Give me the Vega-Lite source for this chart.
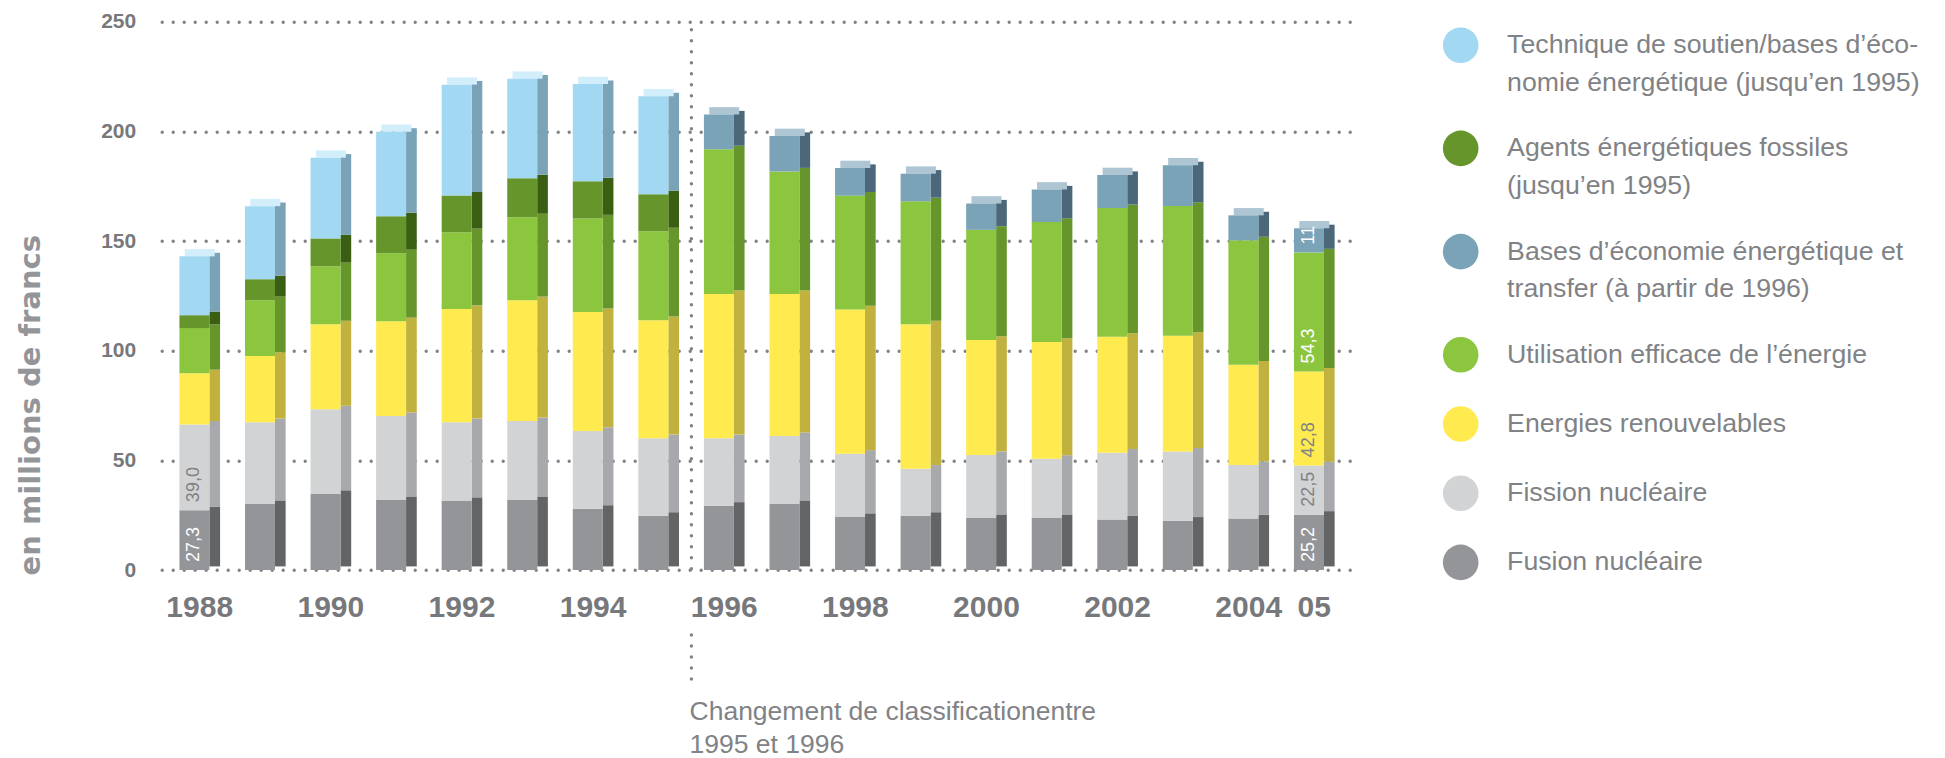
{
  "$schema": "https://vega.github.io/schema/vega-lite/v6.json",
  "width": 1190.6,
  "height": 548.3,
  "autosize": {"type": "none"},
  "padding": {"left": 161.7, "top": 21.7, "right": 592.7, "bottom": 188},
  "background": "white",
  "layer": [
    {
      "data": {
        "name": "budget",
        "values": [
          {"year": "1988", "fusion": 27.3, "fission": 39.0, "renew": 23.4, "eff": 20.6, "fossil": 5.9, "tech": 26.8},
          {"year": "1989", "fusion": 30.1, "fission": 37.3, "renew": 30.2, "eff": 25.4, "fossil": 9.6, "tech": 33.3},
          {"year": "1990", "fusion": 34.7, "fission": 38.6, "renew": 38.7, "eff": 26.5, "fossil": 12.7, "tech": 36.8},
          {"year": "1991", "fusion": 31.9, "fission": 38.3, "renew": 43.2, "eff": 31.0, "fossil": 16.9, "tech": 38.5},
          {"year": "1992", "fusion": 31.5, "fission": 35.9, "renew": 51.6, "eff": 35.0, "fossil": 16.7, "tech": 50.6},
          {"year": "1993", "fusion": 31.9, "fission": 36.0, "renew": 55.1, "eff": 37.8, "fossil": 17.8, "tech": 45.4},
          {"year": "1994", "fusion": 27.9, "fission": 35.5, "renew": 54.2, "eff": 42.7, "fossil": 16.9, "tech": 44.4},
          {"year": "1995", "fusion": 24.7, "fission": 35.4, "renew": 53.8, "eff": 40.5, "fossil": 16.9, "tech": 44.7},
          {"year": "1996", "fusion": 29.3, "fission": 30.8, "renew": 65.7, "eff": 66.0, "bases": 15.9},
          {"year": "1997", "fusion": 30.1, "fission": 31.0, "renew": 64.7, "eff": 55.9, "bases": 16.2},
          {"year": "1998", "fusion": 24.2, "fission": 28.8, "renew": 65.8, "eff": 51.9, "bases": 12.6},
          {"year": "1999", "fusion": 24.7, "fission": 21.5, "renew": 65.8, "eff": 56.1, "bases": 12.6},
          {"year": "2000", "fusion": 23.7, "fission": 28.7, "renew": 52.5, "eff": 50.2, "bases": 12.0},
          {"year": "2001", "fusion": 23.7, "fission": 27.0, "renew": 53.3, "eff": 54.7, "bases": 14.8},
          {"year": "2002", "fusion": 23.0, "fission": 30.5, "renew": 52.8, "eff": 58.7, "bases": 15.1},
          {"year": "2003", "fusion": 22.5, "fission": 31.5, "renew": 52.8, "eff": 59.2, "bases": 18.5},
          {"year": "2004", "fusion": 23.5, "fission": 24.4, "renew": 45.7, "eff": 56.7, "bases": 11.4},
          {"year": "2005", "fusion": 25.2, "fission": 22.5, "renew": 42.8, "eff": 54.3, "bases": 11}
        ]
      },
      "transform": [
        {"fold": ["fusion", "fission", "renew", "eff", "fossil", "bases", "tech"], "as": ["k", "v"]},
        {"filter": "isValid(datum.v)"},
        {"calculate": "indexof(['fusion','fission','renew','eff','fossil','bases','tech'], datum.k)", "as": "o"},
        {"stack": "v", "groupby": ["year"], "sort": [{"field": "o", "order": "ascending"}], "as": ["y0", "y1"]},
        {"joinaggregate": [{"op": "max", "field": "y1", "as": "tot"}], "groupby": ["year"]}
      ],
      "layer": [
        {
          "mark": {"type": "bar", "width": 10.7, "xOffset": 15, "yOffset": -3.6, "y2Offset": -3.6},
          "encoding": {
            "x": {
              "field": "year", "type": "ordinal",
              "scale": {"type": "band", "paddingInner": 0.5, "paddingOuter": 0.33},
              "axis": {
                "title": null, "domain": false, "ticks": false, "labelAngle": 0,
                "labelFont": "Liberation Sans", "labelFontWeight": "bold", "labelFontSize": 30,
                "labelColor": "#77787b", "labelPadding": 22, "labelOverlap": false, "labelFlush": false,
                "labelExpr": "datum.value == '2005' ? '05' : (toNumber(datum.value) % 2 == 0 ? datum.value : '')"
              }
            },
            "y": {
              "field": "y0", "type": "quantitative",
              "scale": {"domain": [0, 250], "nice": false, "zero": true},
              "axis": {
                "title": "en millions de francs", "values": [0, 50, 100, 150, 200, 250],
                "domain": false, "ticks": false, "grid": true,
                "gridDash": [0, 11], "gridCap": "round", "gridWidth": 3.4, "gridColor": "#808285",
                "labelFont": "Liberation Sans", "labelFontWeight": "bold", "labelFontSize": 21,
                "labelColor": "#77787b", "labelPadding": 26,
                "titleFont": "DejaVu Sans", "titleFontWeight": "bold", "titleFontSize": 29,
                "titleColor": "#939598", "titleX": -131, "titleY": 383, "titleAngle": 270,
                "titleAlign": "center", "titleBaseline": "middle"
              }
            },
            "y2": {"field": "y1"},
            "color": {
              "field": "k", "type": "nominal", "legend": null,
              "scale": {
                "domain": ["tech", "fossil", "bases", "eff", "renew", "fission", "fusion"],
                "range": ["#7aa3b7", "#3a5f13", "#4b6779", "#66952b", "#c1b13e", "#a7a9ac", "#636466"]
              }
            }
          }
        },
        {
          "transform": [{"filter": "datum.y1 == datum.tot"}],
          "mark": {"type": "bar", "width": 30, "xOffset": 0, "yOffset": -7.3, "y2Offset": 0},
          "encoding": {
            "x": {"field": "year", "type": "ordinal"},
            "y": {"field": "tot", "type": "quantitative"},
            "y2": {"field": "tot"},
            "color": {
              "field": "k", "type": "nominal", "legend": null,
              "scale": {
                "domain": ["tech", "fossil", "bases", "eff", "renew", "fission", "fusion"],
                "range": ["#d3eefb", "#8fb860", "#aec6d4", "#b6dc82", "#fff39a", "#e6e7e8", "#bcbec0"]
              }
            }
          }
        },
        {
          "mark": {"type": "bar", "width": 30, "xOffset": -5.3},
          "encoding": {
            "x": {"field": "year", "type": "ordinal"},
            "y": {"field": "y0", "type": "quantitative"},
            "y2": {"field": "y1"},
            "color": {
              "field": "k", "type": "nominal",
              "scale": {
                "domain": ["tech", "fossil", "bases", "eff", "renew", "fission", "fusion"],
                "range": ["#a3d8f2", "#66952b", "#7aa3b7", "#8cc63f", "#ffeb50", "#d1d3d4", "#939598"]
              },
              "legend": {
                "orient": "none", "legendX": 1281, "legendY": 5.5, "title": null, "padding": 0,
                "direction": "vertical", "symbolType": "circle", "symbolSize": 1267,
                "symbolStrokeWidth": 0, "symbolOpacity": 1,
                "labelFont": "Liberation Sans", "labelFontSize": 26.7, "labelColor": "#808285",
                "labelOffset": 28.4, "labelLimit": 700, "labelBaseline": "middle", "rowPadding": 33.2,
                "labelExpr": "datum.value == 'tech' ? ['Technique de soutien/bases d’éco-', 'nomie énergétique (jusqu’en 1995)'] : datum.value == 'fossil' ? ['Agents énergétiques fossiles', '(jusqu’en 1995)'] : datum.value == 'bases' ? ['Bases d’économie énergétique et', 'transfer (à partir de 1996)'] : datum.value == 'eff' ? 'Utilisation efficace de l’énergie' : datum.value == 'renew' ? 'Energies renouvelables' : datum.value == 'fission' ? 'Fission nucléaire' : 'Fusion nucléaire'"
              }
            }
          }
        },
        {
          "transform": [
            {"filter": "datum.year == '2005' || (datum.year == '1988' && (datum.k == 'fusion' || datum.k == 'fission'))"},
            {"calculate": "datum.k == 'bases' ? format(datum.v, 'd') : replace(format(datum.v, '.1f'), '.', ',')", "as": "lab"}
          ],
          "mark": {"type": "text", "angle": 270, "align": "left", "baseline": "middle", "font": "Liberation Sans", "fontWeight": "normal", "fontSize": 18, "xOffset": -5.3, "yOffset": -8},
          "encoding": {
            "x": {"field": "year", "type": "ordinal"},
            "y": {"field": "y0", "type": "quantitative"},
            "text": {"field": "lab"},
            "color": {"condition": {"test": "datum.k == 'fission' || datum.k == 'renew'", "value": "#808285"}, "value": "#ffffff"}
          }
        }
      ],
      "resolve": {"scale": {"color": "independent"}}
    },
    {
      "data": {"values": [{"note": "Changement de classification"}]},
      "layer": [
        {
          "mark": {"type": "rule", "strokeDash": [0, 11], "strokeCap": "round", "strokeWidth": 3.4, "color": "#808285", "xOffset": -32.8, "yOffset": 8},
          "encoding": {
            "x": {"datum": "1996", "type": "ordinal", "bandPosition": 0.5},
            "y": {"datum": 250, "type": "quantitative"},
            "y2": {"datum": 0}
          }
        },
        {
          "mark": {"type": "rule", "strokeDash": [0, 11], "strokeCap": "round", "strokeWidth": 3.4, "color": "#808285", "xOffset": -32.8, "yOffset": 65, "y2Offset": 110},
          "encoding": {
            "x": {"datum": "1996", "type": "ordinal", "bandPosition": 0.5},
            "y": {"datum": 0, "type": "quantitative"},
            "y2": {"datum": 0}
          }
        },
        {
          "mark": {"type": "text", "align": "left", "baseline": "alphabetic", "font": "Liberation Sans", "fontWeight": "normal", "fontSize": 26.5, "color": "#808285", "lineHeight": 33.3, "xOffset": -34.7, "yOffset": 150},
          "encoding": {
            "x": {"datum": "1996", "type": "ordinal", "bandPosition": 0.5},
            "y": {"datum": 0, "type": "quantitative"},
            "text": {"value": ["Changement de classificationentre", "1995 et 1996"]}
          }
        }
      ]
    }
  ],
  "resolve": {"scale": {"color": "independent"}},
  "config": {
    "view": {"stroke": null},
    "style": {"guide-label": {"lineHeight": 37.5}}
  }
}
